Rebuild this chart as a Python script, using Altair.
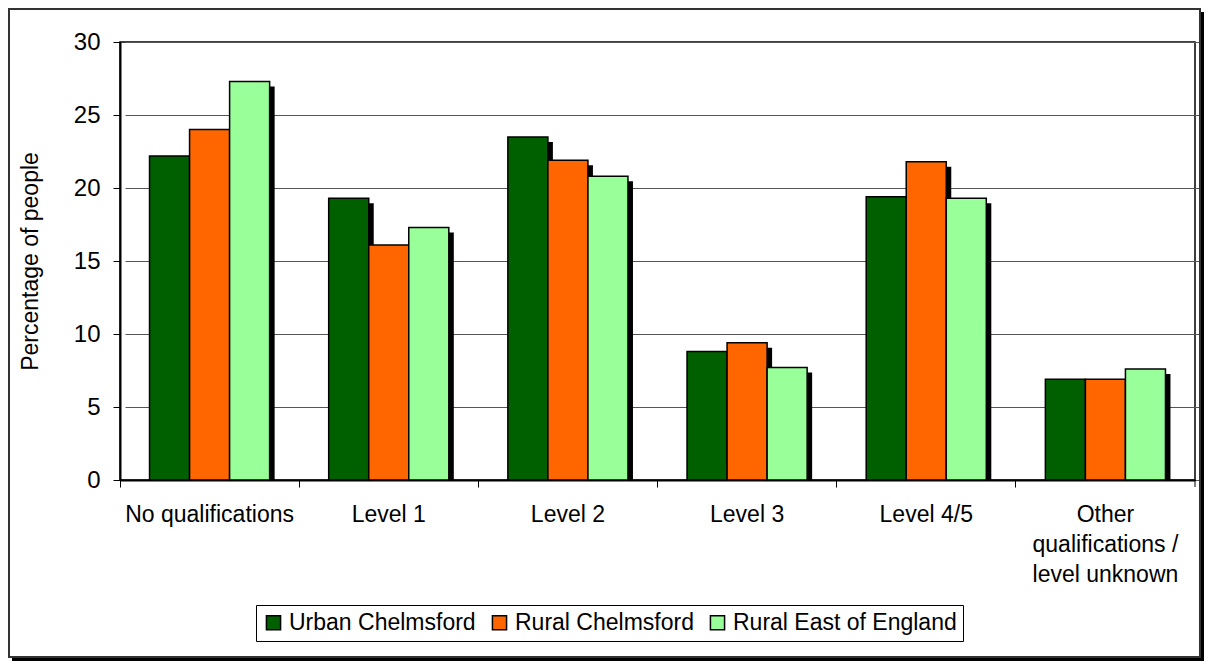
import altair as alt
import pandas as pd

categories = ["No qualifications", "Level 1", "Level 2", "Level 3", "Level 4/5",
              "Other|qualifications /|level unknown"]
series = ["Urban Chelmsford", "Rural Chelmsford", "Rural East of England"]
urban = [22.2, 19.3, 23.5, 8.8, 19.4, 6.9]
rural = [24.0, 16.1, 21.9, 9.4, 21.8, 6.9]
east = [27.3, 17.3, 20.8, 7.7, 19.3, 7.6]
colors = ["#006000", "#FF6600", "#99FF99"]

rows = []
for s, vals in zip(series, [urban, rural, east]):
    for c, v in zip(categories, vals):
        rows.append({"cat": c, "series": s, "value": v})
df = pd.DataFrame(rows)

FONT = "Liberation Sans"
FS = 23

x_axis = alt.Axis(labelAngle=0, labelFontSize=FS, labelFont=FONT, labelColor="black",
                  labelExpr="split(datum.label, '|')", labelLineHeight=30,
                  bandPosition=0, tickSize=7, tickColor="black",
                  domainColor="black", domainWidth=2, labelPadding=16,
                  labelBaseline="top", grid=False)
y_axis = alt.Axis(values=[0, 5, 10, 15, 20, 25, 30], labelFontSize=24, labelFont=FONT,
                  labelColor="black", titleFontSize=23, titleFont=FONT,
                  titleFontWeight="normal", titleColor="black", titlePadding=31,
                  tickSize=7, tickColor="black", domainColor="black", domainWidth=2,
                  labelPadding=13, grid=True, gridColor="#555555", gridWidth=1)

off_scale = alt.Scale(paddingInner=0, paddingOuter=0.7375)
y_scale = alt.Scale(domain=[0, 30])

base = alt.Chart(df)

shadow = base.mark_bar(color="black", yOffset=5, y2Offset=0).encode(
    x=alt.X("cat:N", sort=categories, title=None,
            scale=alt.Scale(paddingInner=0, paddingOuter=0, range=[5, 1080]),
            axis=None),
    xOffset=alt.XOffset("series:N", sort=series, scale=off_scale),
    y=alt.Y("value:Q", stack=None, title="Percentage of people", scale=y_scale, axis=y_axis),
    y2=alt.Y2(datum=0),
)

bars = base.mark_bar(stroke="black", strokeWidth=1.5).encode(
    x=alt.X("cat:N", sort=categories, title=None,
            scale=alt.Scale(paddingInner=0, paddingOuter=0), axis=x_axis),
    xOffset=alt.XOffset("series:N", sort=series, scale=off_scale),
    y=alt.Y("value:Q", stack=None, title="Percentage of people", scale=y_scale, axis=y_axis),
    color=alt.Color("series:N", sort=series,
                    scale=alt.Scale(domain=series, range=colors),
                    legend=alt.Legend(title=None, orient="none", legendX=136, legendY=563,
                                      direction="horizontal", symbolType="square",
                                      symbolSize=200, symbolStrokeColor="black",
                                      symbolStrokeWidth=1.5, labelFontSize=FS, labelFont=FONT,
                                      labelColor="black", labelOffset=4, columnPadding=12,
                                      labelLimit=400,
                                      strokeColor="black", padding=6, fillColor="white")),
)

one = pd.DataFrame({"a": [0]})
frame = alt.Chart(one).mark_rect(fill="white", fillOpacity=0, stroke="#333333",
                                 strokeWidth=2).encode(
    x=alt.value(-111), x2=alt.value(1080), y=alt.value(-33), y2=alt.value(615))
frame_sh_r = alt.Chart(one).mark_rule(color="black", strokeWidth=3).encode(
    x=alt.value(1082.5), y=alt.value(-30), y2=alt.value(618))
frame_sh_b = alt.Chart(one).mark_rule(color="black", strokeWidth=3).encode(
    x=alt.value(-108), x2=alt.value(1084), y=alt.value(617.5))
right_tick = alt.Chart(one).mark_rule(color="black").encode(
    x=alt.value(1075), y=alt.value(438), y2=alt.value(445))

chart = alt.layer(frame_sh_r, frame_sh_b, frame, shadow, bars, right_tick).resolve_scale(
    x="independent"
).properties(
    width=1075, height=438,
    autosize=alt.AutoSizeParams(type="none"),
    padding={"left": 112, "top": 34, "right": 10, "bottom": 182},
    background="white",
).configure_view(stroke="black", strokeWidth=1.5)

chart.save("out.html", embed_options={"renderer": "svg", "actions": False})
